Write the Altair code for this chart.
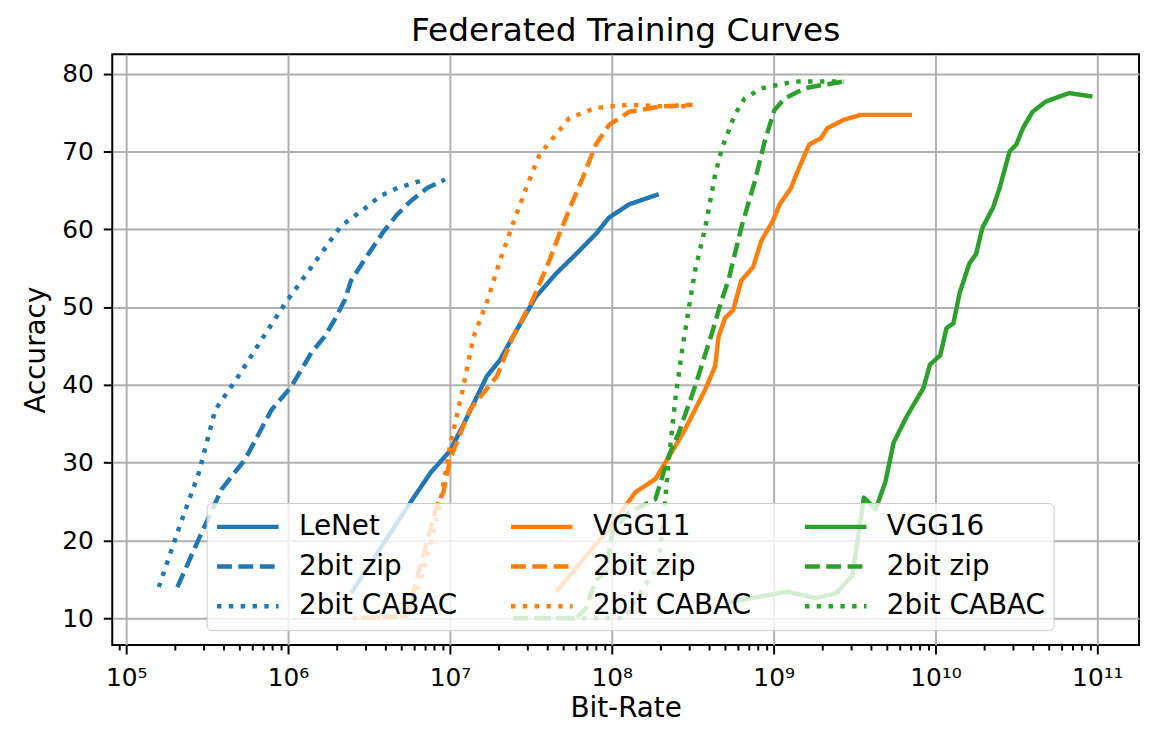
import altair as alt
import pandas as pd

# ---------------- data ----------------
lenet_bits = [2.45e6, 3.72e6, 5.71e6, 7.59e6, 1.0e7, 1.20e7, 1.69e7, 2.04e7, 2.45e7,
              3.39e7, 4.53e7, 6.01e7, 7.98e7, 9.62e7, 1.28e8, 1.95e8]
lenet_acc = [13.2, 19.0, 24.9, 28.7, 31.5, 34.7, 41.1, 43.2, 46.2,
             51.3, 54.3, 56.8, 59.4, 61.5, 63.2, 64.5]

lenet_zip_bits = [2.07e5, 2.81e5, 3.89e5, 5.42e5, 7.91e5, 1.05e6, 1.39e6, 1.68e6, 1.93e6,
                  2.24e6, 2.45e6, 2.95e6, 3.92e6, 4.73e6, 5.71e6, 7.23e6, 9.33e6]
lenet_zip_acc = [14.0, 20.2, 26.6, 30.4, 36.8, 39.8, 44.1, 46.2, 48.3,
                 50.9, 53.4, 56.0, 59.8, 61.9, 63.6, 65.3, 66.4]

lenet_cabac_bits = [1.59e5, 2.11e5, 2.81e5, 3.55e5, 4.93e5, 6.86e5, 8.09e5, 9.77e5,
                    1.39e6, 2.12e6, 2.95e6, 3.73e6, 4.73e6, 6.58e6]
lenet_cabac_acc = [14.0, 21.5, 28.7, 36.8, 41.1, 45.8, 48.1, 50.7,
                   55.1, 60.4, 62.6, 64.3, 65.3, 66.2]

vgg11_bits = [4.53e7, 9.62e7, 1.40e8, 1.86e8, 2.34e8, 2.84e8, 3.78e8, 4.35e8, 4.57e8,
              5.01e8, 5.62e8, 6.31e8, 7.46e8, 8.39e8, 9.91e8, 1.09e9, 1.28e9, 1.41e9,
              1.66e9, 1.96e9, 2.15e9, 2.73e9, 3.45e9, 5.04e9, 7.16e9]
vgg11_acc = [13.4, 21.5, 26.2, 27.9, 31.3, 34.3, 39.4, 42.4, 46.2,
             48.6, 49.6, 53.4, 55.1, 58.5, 61.1, 63.2, 65.3, 67.5,
             70.9, 71.7, 73.0, 74.1, 74.7, 74.7, 74.7]

vgg11_zip_bits = [2.82e6, 5.44e6, 6.31e6, 8.32e6, 9.12e6, 1.0e7, 1.33e7, 1.95e7, 2.45e7,
                  3.24e7, 4.12e7, 4.75e7, 5.74e7, 6.61e7, 7.98e7, 9.62e7, 1.28e8,
                  2.04e8, 3.16e8]
vgg11_zip_acc = [10.0, 10.3, 15.5, 24.5, 26.2, 30.4, 36.8, 41.1, 46.2,
                 50.9, 56.0, 59.4, 63.6, 66.6, 70.9, 73.4, 75.1,
                 75.8, 76.0]

vgg11_cabac_bits = [2.51e6, 5.50e6, 6.92e6, 7.94e6, 8.71e6, 1.0e7, 1.20e7, 1.40e7, 1.69e7,
                    2.04e7, 2.45e7, 2.96e7, 3.58e7, 4.33e7, 5.47e7, 7.98e7, 1.28e8,
                    2.04e8, 3.13e8]
vgg11_cabac_acc = [10.0, 10.3, 16.4, 21.1, 24.9, 32.1, 39.4, 46.2, 50.6,
                   56.0, 60.7, 65.3, 69.6, 71.7, 74.3, 75.6, 76.0,
                   75.8, 75.8]

vgg16_bits = [5.25e8, 6.03e8, 1.22e9, 1.82e9, 2.43e9, 3.07e9, 3.61e9, 4.27e9, 4.90e9,
              5.52e9, 6.67e9, 8.43e9, 9.25e9, 1.07e10, 1.17e10, 1.29e10, 1.41e10,
              1.62e10, 1.78e10, 1.95e10, 2.27e10, 2.49e10, 2.87e10, 3.16e10, 3.47e10,
              3.98e10, 4.79e10, 5.82e10, 6.70e10, 9.33e10]
vgg16_acc = [12.0, 12.3, 13.4, 12.6, 13.2, 15.5, 25.5, 24.0, 27.5,
             32.6, 36.0, 39.6, 42.6, 43.8, 47.3, 47.9, 51.8,
             55.6, 56.8, 60.2, 62.8, 65.3, 70.0, 70.9, 73.0,
             75.1, 76.4, 77.05, 77.5, 77.05]

vgg16_zip_bits = [2.46e7, 6.01e7, 6.92e7, 7.98e7, 9.18e7, 1.01e8, 1.28e8, 1.86e8, 2.25e8,
                  2.59e8, 3.27e8, 4.15e8, 4.78e8, 5.25e8, 6.31e8, 7.66e8, 8.81e8,
                  1.01e9, 1.17e9, 1.55e9, 1.95e9, 2.73e9]
vgg16_zip_acc = [10.0, 10.0, 11.3, 14.9, 16.0, 21.1, 23.6, 25.3, 30.9,
                 33.8, 39.8, 46.6, 50.9, 53.4, 60.2, 66.2, 71.3,
                 75.3, 76.8, 78.1, 78.5, 79.0]

vgg16_cabac_bits = [2.82e7, 1.20e8, 1.58e8, 1.95e8, 2.14e8, 2.25e8, 2.47e8, 2.72e8, 3.05e8,
                    3.27e8, 3.78e8, 4.35e8, 4.79e8, 5.75e8, 6.61e8, 8.39e8, 1.35e9, 2.73e9]
vgg16_cabac_acc = [10.0, 10.0, 14.0, 16.8, 25.3, 30.4, 38.1, 44.5, 50.9,
                   54.7, 60.2, 67.0, 70.4, 74.7, 76.8, 78.1, 79.0, 79.0]

# legend keys (legend columns are filled top to bottom)
series_keys = ["LeNet", "LeNet 2bit zip", "LeNet 2bit CABAC",
               "VGG11", "VGG11 2bit zip", "VGG11 2bit CABAC",
               "VGG16", "VGG16 2bit zip", "VGG16 2bit CABAC"]
series_colors = ["#1f77b4"] * 3 + ["#ff7f0e"] * 3 + ["#2ca02c"] * 3
series_dashes = [[1, 0], [15, 6.5], [4.5, 7.4]] * 3

major_ticks = [1e5, 1e6, 1e7, 1e8, 1e9, 1e10, 1e11]
major_labels = ["10⁵", "10⁶", "10⁷", "10⁸", "10⁹", "10¹⁰", "10¹¹"]
minor_ticks = [k * m for m in [1e4, 1e5, 1e6, 1e7, 1e8, 1e9, 1e10, 1e11] for k in range(2, 10)]
y_ticks = [10, 20, 30, 40, 50, 60, 70, 80]

# ---------------- table ----------------
series = [
    ("LeNet", lenet_bits, lenet_acc),
    ("LeNet 2bit zip", lenet_zip_bits, lenet_zip_acc),
    ("LeNet 2bit CABAC", lenet_cabac_bits, lenet_cabac_acc),
    ("VGG11", vgg11_bits, vgg11_acc),
    ("VGG11 2bit zip", vgg11_zip_bits, vgg11_zip_acc),
    ("VGG11 2bit CABAC", vgg11_cabac_bits, vgg11_cabac_acc),
    ("VGG16", vgg16_bits, vgg16_acc),
    ("VGG16 2bit zip", vgg16_zip_bits, vgg16_zip_acc),
    ("VGG16 2bit CABAC", vgg16_cabac_bits, vgg16_cabac_acc),
]
rows = []
for key, xs, ys in series:
    for xv, yv in zip(xs, ys):
        rows.append({"key": key, "bits": xv, "acc": yv})
df = pd.DataFrame(rows)

x_domain = [8.2e4, 1.81e11]
x_values = sorted([v for v in major_ticks + minor_ticks if x_domain[0] <= v <= x_domain[1]])

major_js = "[" + ",".join(repr(v) for v in major_ticks) + "]"
label_expr = ""
for v, lab in zip(major_ticks, major_labels):
    label_expr += f"datum.value === {v!r} ? '{lab}' : "
label_expr += "''"
is_major = f"indexof({major_js}, datum.value) >= 0"

FONT = "DejaVu Sans"
LW = 4.5

legend = alt.Legend(
    title=None, orient="none", legendX=95, legendY=452, columns=3,
    symbolType="stroke", symbolSize=3844, symbolStrokeWidth=LW, symbolOffset=0,
    labelFont=FONT, labelFontSize=28, labelColor="black", labelLimit=400,
    labelOffset=18,
    labelExpr="indexof(datum.label, 'zip') >= 0 ? '2bit zip' : (indexof(datum.label, 'CABAC') >= 0 ? '2bit CABAC' : datum.label)",
    fillColor="rgba(255,255,255,0.8)", strokeColor="#cccccc", cornerRadius=5,
    padding=8, clipHeight=32, rowPadding=8, columnPadding=51,
)

chart = alt.Chart(df).mark_line(strokeWidth=LW, strokeJoin="round").encode(
    x=alt.X("bits:Q",
            scale=alt.Scale(type="log", domain=x_domain, nice=False),
            axis=alt.Axis(values=x_values, labelExpr=label_expr, title="Bit-Rate",
                          grid=True, gridColor="#b0b0b0", gridWidth=2,
                          gridOpacity={"condition": {"test": is_major, "value": 1}, "value": 0},
                          tickSize={"condition": {"test": is_major, "value": 9}, "value": 5},
                          tickColor="black", tickWidth=2, domain=False,
                          labelFont=FONT, labelFontSize=25, labelColor="black",
                          labelPadding=12, labelOverlap=False, labelFlush=False,
                          titleFont=FONT, titleFontSize=28, titleFontWeight="normal",
                          titleColor="black", titlePadding=4)),
    y=alt.Y("acc:Q",
            scale=alt.Scale(domain=[6.55, 82.5], nice=False, zero=False),
            axis=alt.Axis(values=y_ticks, title="Accuracy", grid=True, gridColor="#b0b0b0",
                          gridWidth=2, tickSize=9, tickColor="black", tickWidth=2, domain=False,
                          labelFont=FONT, labelFontSize=25, labelColor="black", labelPadding=10,
                          titleFont=FONT, titleFontSize=28, titleFontWeight="normal",
                          titleColor="black", titlePadding=11)),
    color=alt.Color("key:N", scale=alt.Scale(domain=series_keys, range=series_colors), legend=legend),
    strokeDash=alt.StrokeDash("key:N", scale=alt.Scale(domain=series_keys, range=series_dashes), legend=legend),
).properties(
    width=1034, height=595,
    autosize=alt.AutoSizeParams(type="none"),
    padding={"left": 105, "top": 44, "right": 6, "bottom": 77},
    title=alt.Title("Federated Training Curves", font=FONT, fontSize=33, fontWeight="normal",
                    color="black", anchor="middle", frame="group", baseline="top", offset=6),
).configure_view(stroke="black", strokeWidth=2)

chart.save("out.html", embed_options={"renderer": "svg", "actions": False})
